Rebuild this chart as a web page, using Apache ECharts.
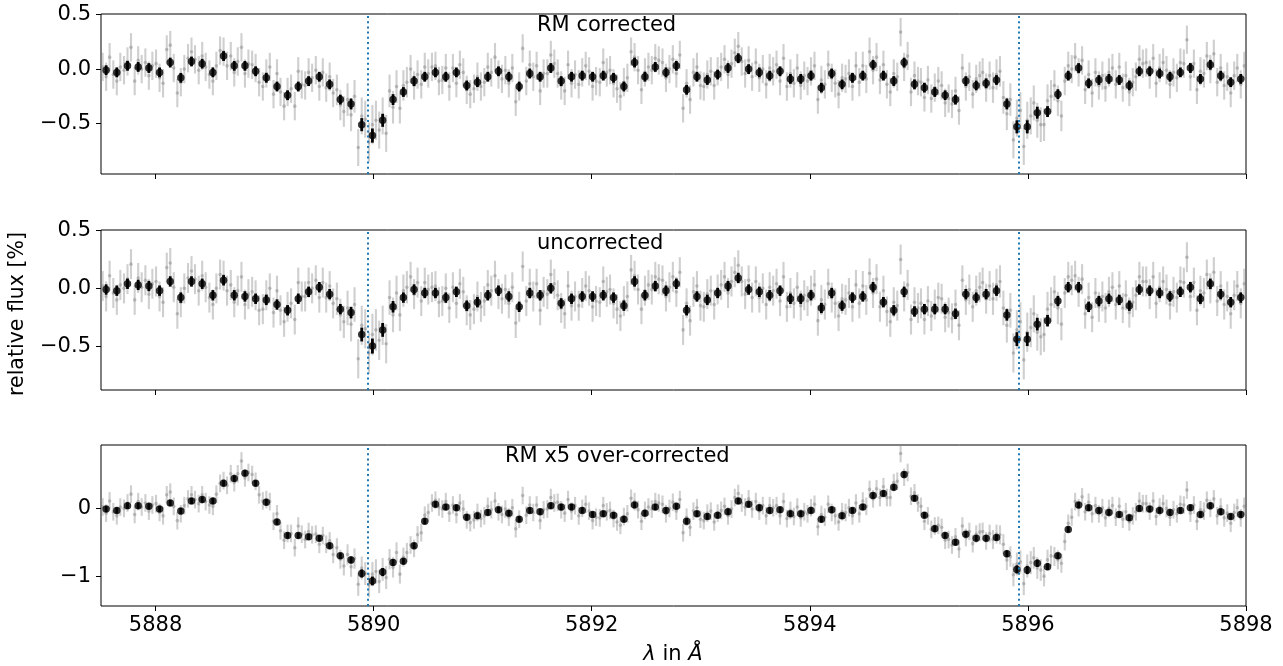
<!DOCTYPE html>
<html>
<head>
<meta charset="utf-8">
<title>Na D relative flux</title>
<script src="https://cdn.jsdelivr.net/npm/echarts@6/dist/echarts.min.js"></script>
<style>
  html, body { margin: 0; padding: 0; background: #ffffff; }
  #chart { width: 1283px; height: 666px; }
</style>
</head>
<body>
<div id="chart"></div>
<script>
// binned points (black), wavelength in Angstrom
const BIN_WAVE = [
  5887.547, 5887.645, 5887.743, 5887.841, 5887.939, 5888.037, 5888.135, 5888.232, 5888.330, 5888.428,
  5888.526, 5888.624, 5888.722, 5888.820, 5888.918, 5889.016, 5889.114, 5889.211, 5889.309, 5889.404,
  5889.502, 5889.597, 5889.695, 5889.793, 5889.891, 5889.989, 5890.083, 5890.178, 5890.273, 5890.371,
  5890.469, 5890.567, 5890.662, 5890.759, 5890.854, 5890.952, 5891.047, 5891.145, 5891.240, 5891.335,
  5891.432, 5891.527, 5891.625, 5891.720, 5891.815, 5891.913, 5892.008, 5892.106, 5892.200, 5892.295,
  5892.393, 5892.488, 5892.583, 5892.681, 5892.776, 5892.870, 5892.965, 5893.060, 5893.155, 5893.250,
  5893.344, 5893.439, 5893.537, 5893.632, 5893.727, 5893.822, 5893.917, 5894.011, 5894.106, 5894.201,
  5894.296, 5894.391, 5894.486, 5894.580, 5894.675, 5894.770, 5894.865, 5894.960, 5895.051, 5895.146,
  5895.241, 5895.336, 5895.431, 5895.526, 5895.617, 5895.712, 5895.807, 5895.899, 5895.994, 5896.086,
  5896.180, 5896.275, 5896.370, 5896.465, 5896.557, 5896.651, 5896.743, 5896.838, 5896.930, 5897.022,
  5897.117, 5897.208, 5897.303, 5897.398, 5897.490, 5897.582, 5897.673, 5897.768, 5897.860, 5897.952
];

const BLACK_RM = [
  -0.01, -0.03, 0.03, 0.02, 0.01, -0.03, 0.06, -0.08, 0.07, 0.05,
  -0.03, 0.12, 0.03, 0.03, -0.02, -0.08, -0.16, -0.24, -0.16, -0.11,
  -0.07, -0.14, -0.28, -0.32, -0.51, -0.61, -0.47, -0.28, -0.21, -0.11,
  -0.07, -0.03, -0.07, -0.03, -0.15, -0.12, -0.07, -0.02, -0.07, -0.16,
  -0.04, -0.07, 0.01, -0.11, -0.07, -0.06, -0.07, -0.06, -0.08, -0.16,
  0.06, -0.07, 0.02, -0.03, 0.03, -0.19, -0.07, -0.10, -0.05, 0.01,
  0.10, 0.00, -0.03, -0.06, -0.02, -0.09, -0.09, -0.06, -0.17, -0.04,
  -0.14, -0.08, -0.06, 0.04, -0.06, -0.11, 0.06, -0.14, -0.17, -0.21,
  -0.24, -0.28, -0.11, -0.15, -0.13, -0.10, -0.32, -0.53, -0.53, -0.40,
  -0.39, -0.23, -0.06, 0.01, -0.13, -0.10, -0.09, -0.10, -0.15, -0.02,
  -0.02, -0.04, -0.07, -0.03, 0.01, -0.09, 0.04, -0.06, -0.12, -0.09
];

const BLACK_UNCORR = [
  -0.01, -0.02, 0.04, 0.03, 0.02, -0.02, 0.06, -0.08, 0.06, 0.04,
  -0.06, 0.07, -0.06, -0.07, -0.09, -0.10, -0.14, -0.19, -0.09, -0.03,
  0.01, -0.05, -0.18, -0.21, -0.40, -0.50, -0.36, -0.16, -0.08, -0.01,
  -0.04, -0.04, -0.08, -0.03, -0.15, -0.12, -0.06, -0.02, -0.07, -0.16,
  -0.04, -0.06, 0.00, -0.13, -0.09, -0.07, -0.07, -0.06, -0.08, -0.15,
  0.06, -0.06, 0.02, -0.02, 0.04, -0.19, -0.07, -0.10, -0.04, 0.02,
  0.09, -0.01, -0.03, -0.06, -0.02, -0.09, -0.09, -0.06, -0.17, -0.04,
  -0.15, -0.08, -0.07, 0.01, -0.12, -0.19, -0.03, -0.20, -0.18, -0.18,
  -0.18, -0.22, -0.05, -0.08, -0.05, -0.02, -0.23, -0.44, -0.44, -0.31,
  -0.28, -0.11, 0.01, 0.01, -0.16, -0.11, -0.09, -0.10, -0.15, -0.01,
  -0.02, -0.04, -0.07, -0.03, 0.01, -0.09, 0.04, -0.05, -0.12, -0.08
];

const BLACK_RM5 = [
  -0.01, -0.03, 0.04, 0.04, 0.03, -0.01, 0.08, -0.04, 0.11, 0.13,
  0.11, 0.37, 0.44, 0.52, 0.37, 0.09, -0.20, -0.40, -0.40, -0.42,
  -0.44, -0.55, -0.70, -0.76, -0.96, -1.07, -0.94, -0.80, -0.78, -0.55,
  -0.19, 0.06, 0.02, 0.01, -0.13, -0.11, -0.06, -0.02, -0.07, -0.16,
  -0.03, -0.05, 0.04, 0.02, 0.02, -0.03, -0.09, -0.08, -0.10, -0.16,
  0.05, -0.07, 0.02, -0.03, 0.03, -0.19, -0.08, -0.12, -0.10, -0.05,
  0.11, 0.06, 0.01, -0.03, -0.02, -0.08, -0.08, -0.03, -0.16, -0.02,
  -0.11, -0.03, 0.02, 0.19, 0.22, 0.31, 0.50, 0.15, -0.10, -0.30,
  -0.40, -0.50, -0.38, -0.44, -0.44, -0.43, -0.67, -0.90, -0.91, -0.81,
  -0.86, -0.70, -0.31, 0.05, 0.01, -0.03, -0.06, -0.09, -0.14, 0.00,
  -0.01, -0.03, -0.06, -0.03, 0.01, -0.09, 0.04, -0.05, -0.12, -0.09
];

const BLACK_ERR = [
  .045, .045, .045, .045, .045, .045, .045, .045, .045, .045,
  .045, .045, .045, .045, .045, .045, .045, .045, .045, .045,
  .045, .045, .045, .05, .06, .065, .06, .05, .045, .045,
  .045, .045, .045, .045, .045, .045, .045, .045, .045, .045,
  .045, .045, .045, .045, .045, .045, .045, .045, .045, .045,
  .045, .045, .045, .045, .045, .045, .045, .045, .045, .045,
  .045, .045, .045, .045, .045, .045, .045, .045, .045, .045,
  .045, .045, .045, .045, .045, .045, .045, .045, .045, .045,
  .045, .045, .045, .045, .045, .045, .05, .06, .06, .055,
  .05, .045, .045, .045, .045, .045, .045, .045, .045, .045,
  .045, .045, .045, .045, .045, .045, .045, .045, .045, .045
];

// unbinned points (grey), three per bin
const GREY_WAVE = [
  5887.515, 5887.547, 5887.579, 5887.613, 5887.645, 5887.677, 5887.711, 5887.743, 5887.775, 5887.809, 5887.841, 5887.873, 5887.907, 5887.939, 5887.971,
  5888.005, 5888.037, 5888.069, 5888.103, 5888.135, 5888.167, 5888.200, 5888.232, 5888.264, 5888.298, 5888.330, 5888.362, 5888.396, 5888.428, 5888.460,
  5888.494, 5888.526, 5888.558, 5888.592, 5888.624, 5888.656, 5888.690, 5888.722, 5888.754, 5888.788, 5888.820, 5888.852, 5888.886, 5888.918, 5888.950,
  5888.984, 5889.016, 5889.048, 5889.082, 5889.114, 5889.146, 5889.179, 5889.211, 5889.243, 5889.277, 5889.309, 5889.341, 5889.372, 5889.404, 5889.436,
  5889.470, 5889.502, 5889.534, 5889.565, 5889.597, 5889.629, 5889.663, 5889.695, 5889.727, 5889.761, 5889.793, 5889.825, 5889.859, 5889.891, 5889.923,
  5889.957, 5889.989, 5890.021, 5890.051, 5890.083, 5890.115, 5890.146, 5890.178, 5890.210, 5890.241, 5890.273, 5890.305, 5890.339, 5890.371, 5890.403,
  5890.437, 5890.469, 5890.501, 5890.535, 5890.567, 5890.599, 5890.630, 5890.662, 5890.694, 5890.727, 5890.759, 5890.791, 5890.822, 5890.854, 5890.886,
  5890.920, 5890.952, 5890.984, 5891.015, 5891.047, 5891.079, 5891.113, 5891.145, 5891.177, 5891.208, 5891.240, 5891.272, 5891.303, 5891.335, 5891.367,
  5891.400, 5891.432, 5891.464, 5891.495, 5891.527, 5891.559, 5891.593, 5891.625, 5891.657, 5891.688, 5891.720, 5891.752, 5891.783, 5891.815, 5891.847,
  5891.881, 5891.913, 5891.945, 5891.976, 5892.008, 5892.040, 5892.074, 5892.106, 5892.138, 5892.168, 5892.200, 5892.232, 5892.263, 5892.295, 5892.327,
  5892.361, 5892.393, 5892.425, 5892.456, 5892.488, 5892.520, 5892.551, 5892.583, 5892.615, 5892.649, 5892.681, 5892.713, 5892.744, 5892.776, 5892.808,
  5892.838, 5892.870, 5892.902, 5892.933, 5892.965, 5892.997, 5893.028, 5893.060, 5893.092, 5893.123, 5893.155, 5893.187, 5893.218, 5893.250, 5893.282,
  5893.312, 5893.344, 5893.376, 5893.407, 5893.439, 5893.471, 5893.505, 5893.537, 5893.569, 5893.600, 5893.632, 5893.664, 5893.695, 5893.727, 5893.759,
  5893.790, 5893.822, 5893.854, 5893.885, 5893.917, 5893.949, 5893.979, 5894.011, 5894.043, 5894.074, 5894.106, 5894.138, 5894.169, 5894.201, 5894.233,
  5894.264, 5894.296, 5894.328, 5894.359, 5894.391, 5894.423, 5894.454, 5894.486, 5894.518, 5894.548, 5894.580, 5894.612, 5894.643, 5894.675, 5894.707,
  5894.738, 5894.770, 5894.802, 5894.833, 5894.865, 5894.897, 5894.928, 5894.960, 5894.992, 5895.019, 5895.051, 5895.083, 5895.114, 5895.146, 5895.178,
  5895.209, 5895.241, 5895.273, 5895.304, 5895.336, 5895.368, 5895.399, 5895.431, 5895.463, 5895.494, 5895.526, 5895.558, 5895.585, 5895.617, 5895.649,
  5895.680, 5895.712, 5895.744, 5895.775, 5895.807, 5895.839, 5895.867, 5895.899, 5895.931, 5895.962, 5895.994, 5896.026, 5896.054, 5896.086, 5896.118,
  5896.148, 5896.180, 5896.212, 5896.243, 5896.275, 5896.307, 5896.338, 5896.370, 5896.402, 5896.433, 5896.465, 5896.497, 5896.525, 5896.557, 5896.589,
  5896.619, 5896.651, 5896.683, 5896.711, 5896.743, 5896.775, 5896.806, 5896.838, 5896.870, 5896.898, 5896.930, 5896.962, 5896.990, 5897.022, 5897.054,
  5897.085, 5897.117, 5897.149, 5897.176, 5897.208, 5897.240, 5897.271, 5897.303, 5897.335, 5897.366, 5897.398, 5897.430, 5897.458, 5897.490, 5897.522,
  5897.550, 5897.582, 5897.614, 5897.641, 5897.673, 5897.705, 5897.736, 5897.768, 5897.800, 5897.828, 5897.860, 5897.892, 5897.920, 5897.952, 5897.984
];

const GREY_RM = [
  0.02, -0.07, 0.11, -0.05, -0.11, 0.02, -0.01, 0.07, 0.20, -0.11, 0.08, 0.00, 0.06, -0.06, 0.03, 0.05, -0.08, -0.13, 0.18, 0.22, 0.01, -0.22, -0.12, 0.00, 0.10, 0.16, 0.09, -0.01, 0.12, 0.02,
  -0.05, -0.11, 0.03, 0.17, 0.16, 0.03, 0.12, -0.03, 0.07, 0.20, -0.04, 0.05, 0.04, 0.01, -0.12, -0.16, -0.04, 0.02, -0.23, -0.04, -0.21, -0.34, -0.21, -0.18, -0.34, -0.02, -0.14, -0.15, -0.03, -0.08,
  -0.01, -0.16, -0.03, -0.17, -0.07, -0.22, -0.19, -0.33, -0.39, -0.28, -0.42, -0.25, -0.72, -0.43, -0.46, -0.67, -0.51, -0.47, -0.56, -0.43, -0.59, -0.20, -0.35, -0.16, -0.36, -0.15, -0.12, 0.00, -0.15, -0.05,
  -0.14, 0.02, -0.04, 0.02, 0.03, -0.11, -0.10, 0.01, -0.16, 0.01, -0.13, 0.04, -0.03, -0.19, -0.23, -0.18, -0.07, -0.16, -0.12, 0.02, -0.03, 0.11, -0.05, -0.09, -0.01, -0.13, 0.01, -0.30, -0.16, 0.19,
  -0.11, 0.04, -0.07, 0.03, -0.20, -0.04, -0.04, 0.13, 0.05, -0.04, -0.15, -0.20, 0.04, -0.13, -0.05, -0.14, -0.03, 0.03, -0.02, -0.16, -0.11, -0.12, 0.06, -0.03, -0.01, -0.13, -0.18, -0.25, -0.12, -0.08,
  0.16, 0.11, -0.01, -0.19, -0.03, 0.02, -0.01, 0.10, 0.08, 0.06, -0.08, 0.00, 0.09, -0.04, 0.13, -0.36, -0.13, -0.28, -0.03, 0.02, -0.15, -0.16, -0.05, -0.02, -0.15, -0.02, 0.02, 0.09, -0.05, 0.05,
  0.15, 0.21, 0.07, -0.04, 0.08, -0.07, 0.06, -0.08, 0.00, -0.14, 0.01, -0.02, 0.04, -0.11, 0.10, -0.16, -0.04, -0.13, 0.01, -0.15, -0.06, -0.11, -0.02, 0.03, -0.28, -0.10, -0.14, 0.04, -0.08, -0.13,
  -0.23, -0.08, -0.09, -0.04, -0.16, 0.03, -0.12, 0.03, -0.09, 0.16, -0.01, 0.11, -0.10, 0.04, -0.14, -0.21, -0.04, -0.07, 0.34, 0.02, 0.12, -0.21, -0.06, -0.11, -0.12, -0.26, -0.10, -0.27, -0.17, -0.11,
  -0.15, -0.31, -0.27, -0.32, -0.20, -0.38, 0.01, -0.16, -0.07, -0.23, -0.09, -0.06, -0.03, -0.17, -0.06, -0.17, -0.05, -0.02, -0.26, -0.41, -0.28, -0.65, -0.45, -0.38, -0.71, -0.47, -0.43, -0.31, -0.47, -0.51,
  -0.51, -0.29, -0.25, -0.15, -0.29, -0.43, -0.11, 0.03, 0.00, 0.11, -0.03, 0.08, -0.19, -0.05, -0.22, -0.03, -0.15, -0.06, -0.17, -0.03, 0.01, -0.14, 0.02, -0.17, -0.06, -0.21, -0.12, -0.07, 0.09, 0.05,
  0.06, -0.05, 0.10, -0.13, 0.01, 0.06, -0.01, -0.14, -0.03, -0.08, 0.06, 0.05, 0.27, -0.07, 0.05, -0.19, -0.02, -0.04, 0.12, 0.00, 0.14, -0.12, 0.01, -0.15, -0.07, -0.22, -0.06, 0.01, -0.14, 0.03
];

const GREY_UNCORR = [
  0.02, -0.07, 0.11, -0.04, -0.10, 0.03, 0.00, 0.08, 0.21, -0.10, 0.09, 0.01, 0.07, -0.05, 0.04, 0.06, -0.07, -0.12, 0.18, 0.22, 0.01, -0.22, -0.12, 0.00, 0.09, 0.15, 0.08, -0.02, 0.11, 0.01,
  -0.08, -0.14, 0.00, 0.12, 0.11, -0.02, 0.03, -0.12, -0.02, 0.10, -0.14, -0.05, -0.03, -0.06, -0.19, -0.18, -0.06, 0.00, -0.21, -0.02, -0.19, -0.29, -0.16, -0.13, -0.27, 0.05, -0.07, -0.07, 0.05, 0.00,
  0.07, -0.08, 0.05, -0.08, 0.02, -0.13, -0.09, -0.23, -0.29, -0.17, -0.31, -0.14, -0.61, -0.32, -0.35, -0.56, -0.40, -0.36, -0.45, -0.32, -0.48, -0.08, -0.23, -0.04, -0.23, -0.02, 0.01, 0.10, -0.05, 0.05,
  -0.11, 0.05, -0.01, 0.01, 0.02, -0.12, -0.11, 0.00, -0.17, 0.01, -0.13, 0.04, -0.03, -0.19, -0.23, -0.18, -0.07, -0.16, -0.11, 0.03, -0.02, 0.11, -0.05, -0.09, -0.01, -0.13, 0.01, -0.30, -0.16, 0.19,
  -0.11, 0.04, -0.07, 0.04, -0.19, -0.03, -0.05, 0.12, 0.04, -0.06, -0.17, -0.22, 0.02, -0.15, -0.07, -0.15, -0.04, 0.02, -0.02, -0.16, -0.11, -0.12, 0.06, -0.03, -0.01, -0.13, -0.18, -0.24, -0.11, -0.07,
  0.16, 0.11, -0.01, -0.18, -0.02, 0.03, -0.01, 0.10, 0.08, 0.07, -0.07, 0.01, 0.10, -0.03, 0.14, -0.36, -0.13, -0.28, -0.03, 0.02, -0.15, -0.16, -0.05, -0.02, -0.14, -0.01, 0.03, 0.10, -0.04, 0.06,
  0.14, 0.20, 0.06, -0.05, 0.07, -0.08, 0.06, -0.08, 0.00, -0.14, 0.01, -0.02, 0.04, -0.11, 0.10, -0.16, -0.04, -0.13, 0.01, -0.15, -0.06, -0.11, -0.02, 0.03, -0.28, -0.10, -0.14, 0.04, -0.08, -0.13,
  -0.24, -0.09, -0.10, -0.04, -0.16, 0.03, -0.13, 0.02, -0.10, 0.13, -0.04, 0.08, -0.16, -0.02, -0.20, -0.29, -0.12, -0.15, 0.25, -0.07, 0.03, -0.27, -0.12, -0.17, -0.13, -0.27, -0.11, -0.24, -0.14, -0.08,
  -0.09, -0.25, -0.21, -0.26, -0.14, -0.32, 0.07, -0.10, -0.01, -0.16, -0.02, 0.01, 0.05, -0.09, 0.02, -0.09, 0.03, 0.06, -0.17, -0.32, -0.19, -0.56, -0.36, -0.29, -0.62, -0.38, -0.34, -0.22, -0.38, -0.42,
  -0.40, -0.18, -0.14, -0.03, -0.17, -0.31, -0.04, 0.10, 0.07, 0.11, -0.03, 0.08, -0.22, -0.08, -0.25, -0.04, -0.16, -0.07, -0.17, -0.03, 0.01, -0.14, 0.02, -0.17, -0.06, -0.21, -0.12, -0.06, 0.10, 0.06,
  0.06, -0.05, 0.10, -0.13, 0.01, 0.06, -0.01, -0.14, -0.03, -0.08, 0.06, 0.05, 0.27, -0.07, 0.05, -0.19, -0.02, -0.04, 0.12, 0.00, 0.14, -0.11, 0.02, -0.14, -0.07, -0.22, -0.06, 0.02, -0.13, 0.04
];

const GREY_RM5 = [
  0.02, -0.07, 0.11, -0.05, -0.11, 0.02, 0.00, 0.08, 0.21, -0.09, 0.10, 0.02, 0.08, -0.04, 0.05, 0.07, -0.06, -0.11, 0.20, 0.24, 0.03, -0.18, -0.08, 0.04, 0.14, 0.20, 0.13, 0.07, 0.20, 0.10,
  0.05, 0.03, 0.21, 0.37, 0.41, 0.34, 0.51, 0.38, 0.51, 0.70, 0.45, 0.53, 0.50, 0.40, 0.20, 0.11, 0.13, 0.10, -0.19, -0.08, -0.33, -0.47, -0.37, -0.37, -0.58, -0.26, -0.38, -0.46, -0.34, -0.39,
  -0.38, -0.53, -0.40, -0.53, -0.48, -0.68, -0.58, -0.75, -0.85, -0.68, -0.86, -0.74, -1.12, -0.88, -0.96, -1.13, -0.97, -0.93, -1.08, -0.90, -1.02, -0.75, -0.87, -0.65, -0.97, -0.72, -0.65, -0.54, -0.59, -0.39,
  -0.36, -0.10, -0.06, 0.08, 0.12, 0.02, -0.01, 0.10, -0.07, 0.05, -0.09, 0.08, -0.01, -0.17, -0.21, -0.17, -0.06, -0.15, -0.11, 0.03, -0.02, 0.11, -0.05, -0.09, -0.01, -0.13, 0.01, -0.30, -0.16, 0.19,
  -0.10, 0.05, -0.06, 0.05, -0.18, -0.02, -0.01, 0.16, 0.08, 0.09, -0.02, -0.07, 0.13, -0.04, 0.04, -0.11, 0.00, 0.06, -0.04, -0.18, -0.13, -0.14, 0.04, -0.05, -0.03, -0.15, -0.20, -0.25, -0.12, -0.08,
  0.15, 0.10, -0.02, -0.19, -0.03, 0.02, -0.01, 0.10, 0.08, 0.06, -0.08, 0.00, 0.09, -0.04, 0.13, -0.36, -0.13, -0.28, -0.04, 0.01, -0.16, -0.18, -0.07, -0.04, -0.20, -0.07, -0.03, 0.03, -0.11, -0.01,
  0.16, 0.22, 0.08, 0.02, 0.14, -0.01, 0.10, -0.04, 0.04, -0.11, 0.04, 0.01, 0.04, -0.11, 0.10, -0.15, -0.03, -0.12, 0.02, -0.14, -0.05, -0.08, 0.01, 0.06, -0.27, -0.09, -0.13, 0.06, -0.06, -0.11,
  -0.20, -0.05, -0.06, 0.01, -0.11, 0.08, -0.08, 0.11, 0.03, 0.28, 0.14, 0.29, 0.16, 0.32, 0.16, 0.16, 0.38, 0.40, 0.81, 0.46, 0.53, 0.18, 0.23, 0.08, 0.03, -0.19, -0.11, -0.31, -0.26, -0.25,
  -0.28, -0.47, -0.46, -0.54, -0.42, -0.60, -0.26, -0.43, -0.34, -0.52, -0.38, -0.35, -0.34, -0.48, -0.37, -0.46, -0.38, -0.39, -0.53, -0.76, -0.71, -0.98, -0.82, -0.79, -1.11, -0.85, -0.80, -0.73, -0.88, -0.91,
  -1.00, -0.76, -0.70, -0.71, -0.76, -0.81, -0.49, -0.22, -0.13, 0.10, 0.01, 0.17, -0.05, 0.09, -0.08, 0.04, -0.08, 0.01, -0.14, 0.00, 0.04, -0.13, 0.03, -0.16, -0.05, -0.20, -0.11, -0.05, 0.11, 0.07,
  0.07, -0.04, 0.11, -0.12, 0.02, 0.07, 0.00, -0.13, -0.02, -0.08, 0.06, 0.05, 0.27, -0.07, 0.05, -0.19, -0.02, -0.04, 0.12, 0.00, 0.14, -0.11, 0.02, -0.14, -0.07, -0.22, -0.06, 0.01, -0.14, 0.03
];

// one error per bin, shared by its three grey points
const GREY_ERR = [
  .13, .13, .13, .13, .13, .13, .13, .13, .13, .13,
  .13, .13, .13, .13, .13, .13, .13, .13, .13, .13,
  .13, .13, .14, .15, .17, .18, .17, .15, .14, .13,
  .13, .13, .13, .13, .13, .13, .13, .13, .13, .13,
  .13, .13, .13, .13, .13, .13, .13, .13, .13, .13,
  .13, .13, .13, .13, .13, .13, .13, .13, .13, .13,
  .13, .13, .13, .13, .13, .13, .13, .13, .13, .13,
  .13, .13, .13, .13, .13, .13, .13, .13, .13, .13,
  .13, .13, .13, .13, .13, .14, .15, .17, .17, .16,
  .15, .14, .13, .13, .13, .13, .13, .13, .13, .13,
  .13, .13, .13, .13, .13, .13, .13, .13, .13, .13
];

const NA_LINES = [5889.95, 5895.92];
const X_TICKS = [5888, 5890, 5892, 5894, 5896, 5898];
const Y_TICKS_TOP = [-0.5, 0, 0.5];
const Y_TICKS_BOTTOM = [-1, 0];
const PANEL_LABELS = ['RM corrected', 'uncorrected', 'RM x5 over-corrected'];

const FONT = '"DejaVu Sans", sans-serif';
const FONT_SIZE = 21;
const NA_COLOR = '#1f77b4';

const panels = [
  { black: BLACK_RM, grey: GREY_RM, top: 14, height: 160, min: -0.963, max: 0.506, ticks: Y_TICKS_TOP, digits: 1, labelX: 537, labelY: 26 },
  { black: BLACK_UNCORR, grey: GREY_UNCORR, top: 230, height: 160, min: -0.881, max: 0.506, ticks: Y_TICKS_TOP, digits: 1, labelX: 537, labelY: 244 },
  { black: BLACK_RM5, grey: GREY_RM5, top: 445, height: 161, min: -1.44, max: 0.935, ticks: Y_TICKS_BOTTOM, digits: 0, labelX: 505, labelY: 457 }
];

function fmtY(digits) {
  return (v) => (v < 0 ? '\u2212' : '') + Math.abs(v).toFixed(digits);
}

function errorBars(idx, data, color, width, z) {
  return {
    type: 'custom',
    xAxisIndex: idx,
    yAxisIndex: idx,
    silent: true,
    clip: true,
    z: z,
    encode: { x: 0, y: 1 },
    data: data,
    renderItem(params, api) {
      const x = api.value(0);
      const y = api.value(1);
      const e = api.value(2);
      const hi = api.coord([x, y + e]);
      const lo = api.coord([x, y - e]);
      return {
        type: 'line',
        shape: { x1: hi[0], y1: hi[1], x2: lo[0], y2: lo[1] },
        style: { stroke: color, lineWidth: width }
      };
    }
  };
}

const grids = [];
const xAxes = [];
const yAxes = [];
const series = [];

panels.forEach((p, i) => {
  grids.push({
    left: 101, right: 37, top: p.top, height: p.height,
    show: true, borderColor: '#000', borderWidth: 1, backgroundColor: 'transparent'
  });
  xAxes.push({
    type: 'value', gridIndex: i, min: 5887.5, max: 5898,
    axisLine: { show: false, onZero: false },
    splitLine: { show: false },
    axisTick: { show: true, length: 5, customValues: X_TICKS, lineStyle: { color: '#000', width: 1 } },
    axisLabel: {
      show: i === 2, customValues: X_TICKS, margin: 9,
      color: '#000', fontFamily: FONT, fontSize: FONT_SIZE,
      formatter: (v) => String(v)
    }
  });
  yAxes.push({
    type: 'value', gridIndex: i, min: p.min, max: p.max,
    axisLine: { show: false, onZero: false },
    splitLine: { show: false },
    axisTick: { show: true, length: 5, customValues: p.ticks, lineStyle: { color: '#000', width: 1 } },
    axisLabel: {
      customValues: p.ticks, margin: 10,
      color: '#000', fontFamily: FONT, fontSize: FONT_SIZE,
      formatter: fmtY(p.digits)
    }
  });

  const greyData = GREY_WAVE.map((w, k) => [w, p.grey[k], GREY_ERR[Math.floor(k / 3)]]);
  const blackData = BIN_WAVE.map((w, k) => [w, p.black[k], BLACK_ERR[k]]);

  series.push(errorBars(i, greyData, 'rgba(140,140,140,0.42)', 2.1, 1));
  series.push({
    type: 'scatter', xAxisIndex: i, yAxisIndex: i, silent: true, z: 2,
    symbol: 'circle', symbolSize: 3.6,
    itemStyle: { color: 'rgba(120,120,120,0.5)' },
    data: greyData.map((d) => [d[0], d[1]])
  });
  series.push(errorBars(i, blackData, '#000', 2.8, 3));
  series.push({
    type: 'scatter', xAxisIndex: i, yAxisIndex: i, silent: true, z: 4,
    symbol: 'circle', symbolSize: 7.5,
    itemStyle: { color: '#000' },
    data: blackData.map((d) => [d[0], d[1]]),
    markLine: {
      silent: true, symbol: 'none', animation: false,
      label: { show: false },
      lineStyle: { color: NA_COLOR, width: 2, type: [2, 3.2], cap: 'butt' },
      data: NA_LINES.map((v) => ({ xAxis: v }))
    }
  });
});

const labels = panels.map((p, i) => ({
  type: 'text', x: p.labelX, y: p.labelY,
  style: { text: PANEL_LABELS[i], fill: '#000', font: FONT_SIZE + 'px ' + FONT, align: 'left', verticalAlign: 'middle' }
}));

const chart = echarts.init(document.getElementById('chart'), null, { renderer: 'canvas' });

chart.setOption({
  animation: false,
  backgroundColor: '#ffffff',
  grid: grids,
  xAxis: xAxes,
  yAxis: yAxes,
  series: series,
  graphic: labels.concat([
    {
      type: 'text', x: 18, y: 314, rotation: Math.PI / 2,
      style: { text: 'relative flux [%]', fill: '#000', font: '20.5px ' + FONT, align: 'center', verticalAlign: 'middle' }
    },
    {
      type: 'text', x: 673, y: 655,
      style: {
        text: '{i|\u03bb} in {i|\u00c5}',
        fill: '#000', font: FONT_SIZE + 'px ' + FONT, align: 'center', verticalAlign: 'middle',
        rich: { i: { fontStyle: 'italic', fontSize: FONT_SIZE, fontFamily: FONT } }
      }
    }
  ])
});

window.addEventListener('resize', () => chart.resize());
</script>
</body>
</html>
